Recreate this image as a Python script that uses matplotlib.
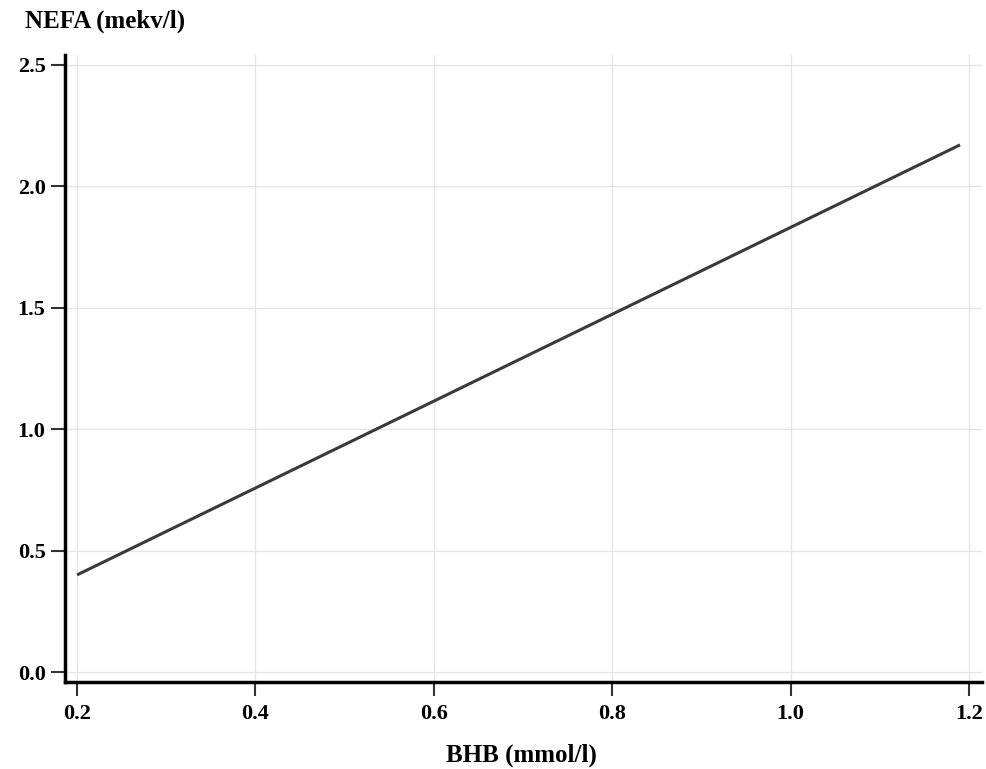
import matplotlib
matplotlib.use("Agg")
import matplotlib.pyplot as plt

bhb = [0.20, 1.19]
nefa = [0.40, 2.17]
xticks = [0.2, 0.4, 0.6, 0.8, 1.0, 1.2]
yticks = [0.0, 0.5, 1.0, 1.5, 2.0, 2.5]

plt.rcParams['font.family'] = ['Liberation Serif', 'DejaVu Serif']

fig = plt.figure(figsize=(9.87, 7.69), dpi=100)
ax = fig.add_axes([0.0659, 0.1131, 0.929, 0.8154])

ax.plot(bhb, nefa, color='#3a3a3a', lw=2.2, solid_capstyle='butt')

ax.set_xlim(0.1865, 1.2146)
ax.set_ylim(-0.041, 2.54)
ax.set_xticks(xticks)
ax.set_yticks(yticks)
ax.set_xticklabels([f"{v:.1f}" for v in xticks], fontweight='bold', fontsize=16)
ax.set_yticklabels([f"{v:.1f}" for v in yticks], fontweight='bold', fontsize=16)
ax.grid(True, color='#e6e6e6', lw=1.0)
ax.set_axisbelow(True)
for s in ['top', 'right']:
    ax.spines[s].set_visible(False)
for s in ['left', 'bottom']:
    ax.spines[s].set_linewidth(2.5)
    ax.spines[s].set_color('black')
ax.tick_params(axis='both', direction='out', length=10, width=1.5, color='#333333')
ax.tick_params(axis='x', pad=6)
ax.tick_params(axis='y', pad=4)

fig.text(0.025, 0.972, "NEFA (mekv/l)", fontsize=18, fontweight='bold', ha='left', va='center')
fig.text(0.528, 0.018, "BHB (mmol/l)", fontsize=18, fontweight='bold', ha='center', va='center')

fig.savefig("out.png", dpi=100)
